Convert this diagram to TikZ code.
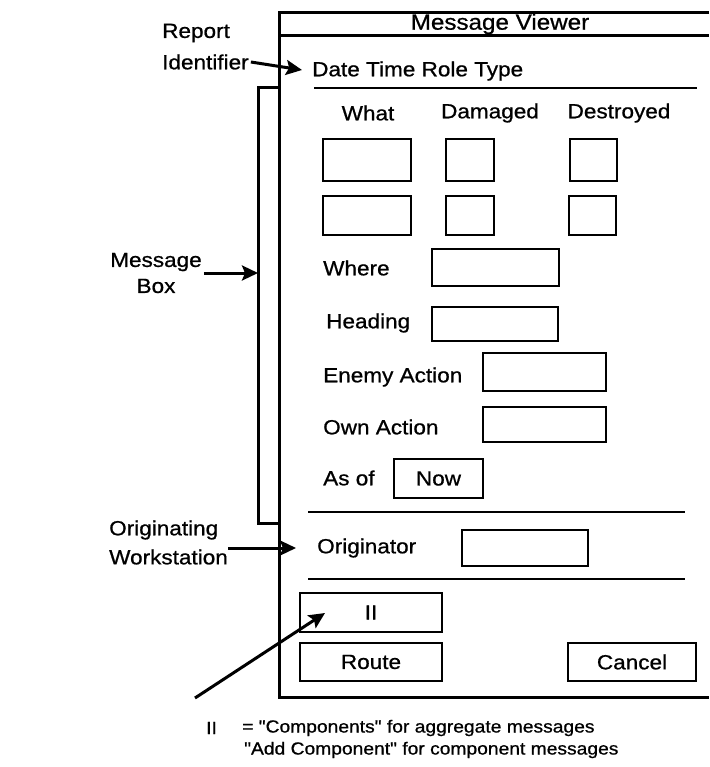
\documentclass[tikz,border=0pt]{standalone}
\usepackage{fontspec}
\setmainfont[FakeStretch=1.1, FakeBold=0.8, Ligatures=TeXOff]{Liberation Sans}
\usetikzlibrary{arrows.meta}

\tikzset{
  txt/.style={inner sep=0pt, font=\fontsize{20.5}{26}\selectfont},
  note/.style={inner sep=0pt, font=\fontsize{17.5}{22}\selectfont},
  frame/.style={line width=3pt, line join=miter},
  rule/.style={line width=2.6pt},
  field/.style={draw, line width=2.6pt, inner sep=0pt, txt},
  ptr/.style={line width=3pt, -{Stealth[length=16pt,width=15pt,inset=3pt]}},
}

\begin{document}
\begin{tikzpicture}[x=1pt,y=-1pt]
\useasboundingbox (0,0) rectangle (709,767);

% window outline and title bar
\draw[frame] (709,13) -- (279,13) -- (279,697) -- (709,697);
\draw[frame] (279,36) -- (709,36);
\node[txt, font=\fontsize{22}{26}\selectfont] (title) at (500,24) {Message Viewer};

% report identifier line
\node[txt, anchor=west] (dtrt) at (312,71) {Date Time Role Type};
\draw[rule] (314,88) -- (697,88);

% message box bracket
\draw[frame] (279,88) -- (258,88) -- (258,523) -- (279,523);

% column headers
\node[txt] (hwhat) at (368,113) {What};
\node[txt] (hdam) at (490,113) {Damaged};
\node[txt] (hdes) at (619,113) {Destroyed};

% entry grid
\node[field, minimum width=88pt, minimum height=42pt] (what1) at (367,160) {};
\node[field, minimum width=48pt, minimum height=42pt] (dam1) at (470,160) {};
\node[field, minimum width=47pt, minimum height=42pt] (des1) at (593.5,160) {};
\node[field, minimum width=88pt, minimum height=39pt] (what2) at (367,215.5) {};
\node[field, minimum width=48pt, minimum height=39pt] (dam2) at (470,215.5) {};
\node[field, minimum width=47pt, minimum height=39pt] (des2) at (592.5,215.5) {};

% labelled fields
\node[txt, anchor=west] (lwhere) at (323,268) {Where};
\node[field, minimum width=127pt, minimum height=37pt] (fwhere) at (495.5,267.5) {};
\node[txt, anchor=west] (lhead) at (326,323) {Heading};
\node[field, minimum width=126pt, minimum height=34pt] (fhead) at (495,324) {};
\node[txt, anchor=west] (lenemy) at (323,377) {Enemy Action};
\node[field, minimum width=123pt, minimum height=38pt] (fenemy) at (544.5,372) {};
\node[txt, anchor=west] (lown) at (323,427) {Own Action};
\node[field, minimum width=123pt, minimum height=35pt] (fown) at (544.5,424.5) {};
\node[txt, anchor=west] (lasof) at (323,478) {As of};
\node[field, minimum width=89pt, minimum height=39pt] (fnow) at (438.5,478.5) {Now};

% originator section
\draw[rule] (308,512) -- (685,512);
\node[txt, anchor=west] (lorig) at (317,548) {Originator};
\node[field, minimum width=126pt, minimum height=36pt] (forig) at (525,548) {};
\draw[rule] (308,579) -- (685,579);

% buttons
\node[field, minimum width=142pt, minimum height=39pt] (bii) at (371,612.5) {II};
\node[field, minimum width=142pt, minimum height=38pt] (broute) at (371,662) {Route};
\node[field, minimum width=128pt, minimum height=38pt] (bcancel) at (632,662) {Cancel};

% callouts
\node[txt, anchor=west] (rep1) at (162,33) {Report};
\node[txt, anchor=west] (rep2) at (162,62) {Identifier};
\coordinate (repTip) at (302,70);
\draw[ptr] ([xshift=2pt]rep2.east) -- (repTip);

\node[txt, align=center] (mbox) at (156,273) {Message\\Box};
\coordinate (mboxTip) at (258,273);
\draw[ptr] ([xshift=2pt]mbox.east) -- (mboxTip);

\node[txt, anchor=west] (ow1) at (109,530) {Originating};
\node[txt, anchor=west] (ow2) at (109,557) {Workstation};
\coordinate (owTail) at (228,548);
\draw[ptr, shorten >=21pt] (owTail) -- (lorig.west);

% footnote
\node[note, anchor=west] (fnii) at (206,728) {II};
\node[note, anchor=west] (fn1) at (242,728) {= "Components" for aggregate messages};
\node[note, anchor=west] (fn2) at (244,750) {"Add Component" for component messages};
\coordinate (fnTail) at (195,698);
\coordinate (iiTip) at (325,613);
\draw[ptr] (fnTail) -- (iiTip);
\end{tikzpicture}
\end{document}
